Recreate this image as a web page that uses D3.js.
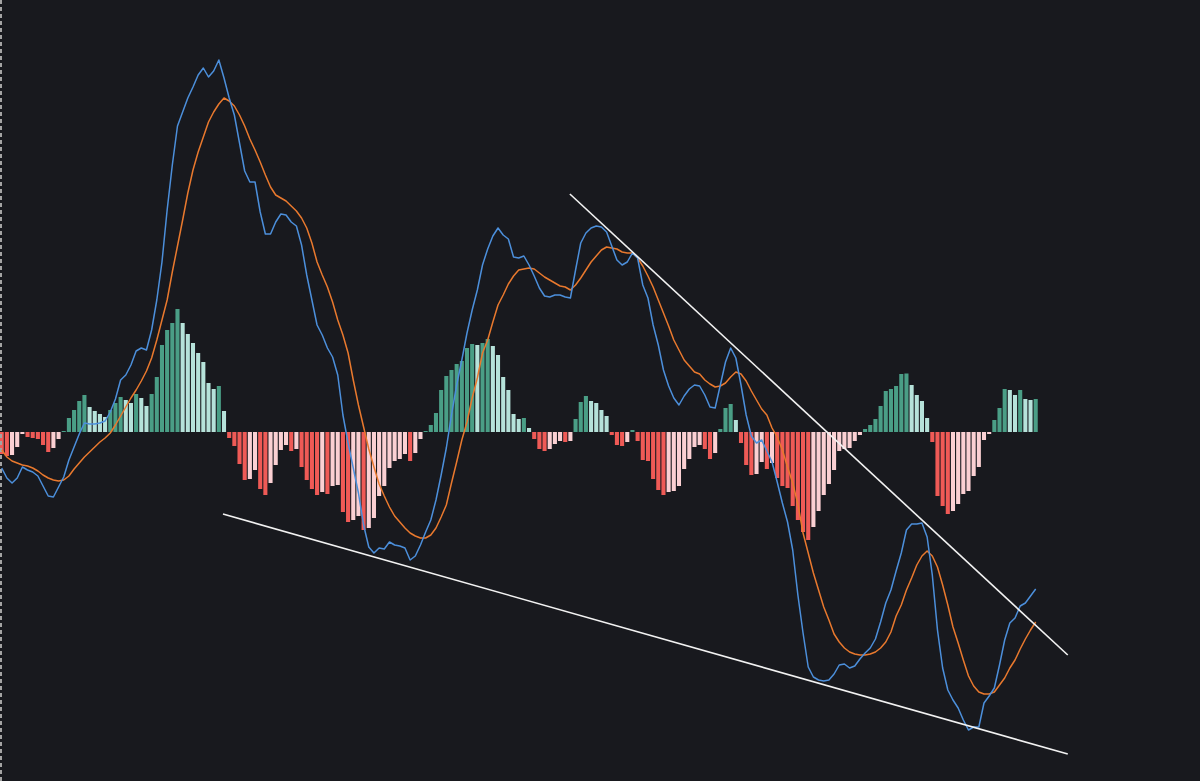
<!DOCTYPE html>
<html>
<head>
<meta charset="utf-8">
<script src="https://cdn.jsdelivr.net/npm/d3@7"></script>
<style>
  html, body { margin: 0; padding: 0; background: #18191e; overflow: hidden; }
  svg { display: block; }
</style>
</head>
<body>
<svg id="chart" width="1200" height="781"></svg>
<script>
// ---- data (MACD units) ----
const histogram = [
  -22,-24,-23,-15,-2,-5,-6,-7,-13,-20,-16,-7,1,14,22,31,37,25,21,18,
  15,22,29,35,32,29,38,34,26,38,55,87,102,109,123,109,98,89,79,70,
  49,43,46,21,-6,-14,-32,-48,-47,-38,-57,-63,-51,-33,-18,-13,-19,-17,-35,-48,
  -57,-63,-60,-62,-54,-53,-80,-90,-88,-84,-98,-96,-86,-64,-54,-36,-29,-27,-22,-29,
  -21,-7,1,7,19,42,56,62,68,71,84,88,87,89,93,86,77,55,42,18,
  13,14,4,-7,-17,-19,-17,-12,-9,-10,-9,13,30,36,31,29,22,16,-3,-13,
  -14,-10,2,-9,-28,-29,-47,-58,-63,-60,-59,-54,-37,-27,-15,-13,-17,-27,-21,3,
  24,28,12,-11,-33,-43,-42,-30,-37,-31,-46,-54,-56,-74,-88,-100,-108,-95,-79,-63,
  -52,-38,-19,-17,-16,-9,-3,3,7,13,26,41,43,46,58,58.5,47,37,31,14,
  -10,-64,-74,-82,-79,-72,-62,-59,-44,-35,-8,-2,12,24,43,42,37,42,33,32,
  33
];
const macdLine = [
  -36,-46,-51,-46,-35,-38,-40,-44,-54,-64,-65,-55,-45,-28,-15,-2,9,8,8,9,
  11,20,33,52,57,67,81,84,82,102,132,170,222,267,306,320,334,345,357,364,
  355,361,372,354,334,317,289,261,250,250,220,198,198,210,218,217,210,206,187,157,
  132,107,97,84,75,57,17,-11,-36,-61,-93,-115,-121,-116,-117,-110,-113,-114,-116,-128,
  -124,-113,-100,-88,-68,-43,-16,17,47,72,99,122,142,167,183,196,204,197,193,175,
  174,176,167,156,144,136,135,137,137,135,134,162,189,199,204,206,205,200,186,172,
  167,170,179,174,147,134,107,87,62,46,34,27,36,43,47,46,37,25,24,47,
  70,84,74,47,17,-4,-11,-8,-19,-30,-50,-71,-90,-118,-163,-201,-235,-245,-248,-249,
  -248,-242,-233,-232,-236,-234,-227,-221,-216,-207,-190,-171,-158,-139,-121,-98,-92,-92,-91,-105,
  -143,-198,-236,-258,-268,-276,-288,-298,-295,-295,-271,-264,-256,-233,-208,-191,-186,-174,-171,-164,
  -157
];
const signalLine = [
  -18,-25,-29,-31,-33,-34,-36,-39,-43,-46,-48,-49,-48,-44,-37,-31,-25,-20,-15,-10,
  -6,-1,7,16,25,34,42,51,61,74,92,112,132,160,186,212,239,262,280,295,
  310,320,328,334,331,326,317,306,293,282,270,257,245,237,234,231,226,221,214,204,
  189,170,157,145,130,112,97,79,52,27,5,-17,-35,-52,-64,-75,-84,-90,-96,-101,
  -104,-106,-106,-103,-96,-85,-73,-51,-30,-8,10,34,54,79,92,110,127,137,148,156,
  162,163,164,163,159,155,152,149,146,145,142,147,154,162,170,176,182,185,184,183,
  180,179,179,174,166,156,145,132,119,106,92,82,72,66,60,58,52,48,45,46,
  49,55,60,58,51,41,32,23,17,4,-5,-18,-35,-51,-72,-101,-121,-141,-158,-175,
  -188,-202,-210,-216,-220,-222,-223,-223,-222,-220,-216,-210,-200,-184,-173,-158,-146,-133,-124,-119,
  -124,-135,-153,-173,-195,-211,-228,-244,-254,-260,-262,-262,-260,-253,-246,-236,-228,-217,-207,-198,
  -190
];
// trend lines: [bar index, value]
const upperTrend = [[109.9, 238], [206.2, -223]];
const lowerTrend = [[42.8, -82], [206.2, -322]];

// ---- colours ----
const BG = "#18191e";
const C_UP = "#4a9e86", C_UP_FALL = "#b6e2da", C_DN = "#ef5a56", C_DN_RISE = "#fbd0d3";
const C_MACD = "#4c8fdb", C_SIG = "#e9792e";

const W = 1200, H = 781;
const svg = d3.select("#chart");
svg.append("rect").attr("width", W).attr("height", H).attr("fill", BG);

const x = d3.scaleLinear().domain([0, histogram.length - 1]).range([1.7, 1035.7]);
const y = d3.scaleLinear().domain([-349, 432]).range([H, 0]);
const step = x(1) - x(0);
const bw = step * 0.79;

function barColor(v, i) {
  const prev = i > 0 ? histogram[i - 1] : 0;
  if (v >= 0) return v > prev ? C_UP : C_UP_FALL;
  return v < prev ? C_DN : C_DN_RISE;
}

// histogram
svg.append("g").selectAll("rect").data(histogram).join("rect")
  .attr("x", (d, i) => x(i) - bw / 2)
  .attr("width", bw)
  .attr("y", d => Math.min(y(d), y(0)))
  .attr("height", d => Math.max(1, Math.abs(y(d) - y(0))))
  .attr("fill", (d, i) => barColor(d, i));

// left dashed border
svg.append("line")
  .attr("x1", 1).attr("x2", 1).attr("y1", 0).attr("y2", H)
  .attr("stroke", "#a4a4a4").attr("stroke-width", 2).attr("stroke-dasharray", "4,3");

// MACD & signal
const line = d3.line().x((d, i) => x(i)).y(d => y(d));
svg.append("path").datum(signalLine).attr("d", line)
  .attr("fill", "none").attr("stroke", C_SIG).attr("stroke-width", 1.5).attr("stroke-linejoin", "round");
svg.append("path").datum(macdLine).attr("d", line)
  .attr("fill", "none").attr("stroke", C_MACD).attr("stroke-width", 1.5).attr("stroke-linejoin", "round");

// trend lines
const tline = d3.line().x(d => x(d[0])).y(d => y(d[1]));
[upperTrend, lowerTrend].forEach(t => {
  svg.append("path").datum(t).attr("d", tline)
    .attr("fill", "none").attr("stroke", "#f2f2f2").attr("stroke-width", 1.6);
});
</script>
</body>
</html>
